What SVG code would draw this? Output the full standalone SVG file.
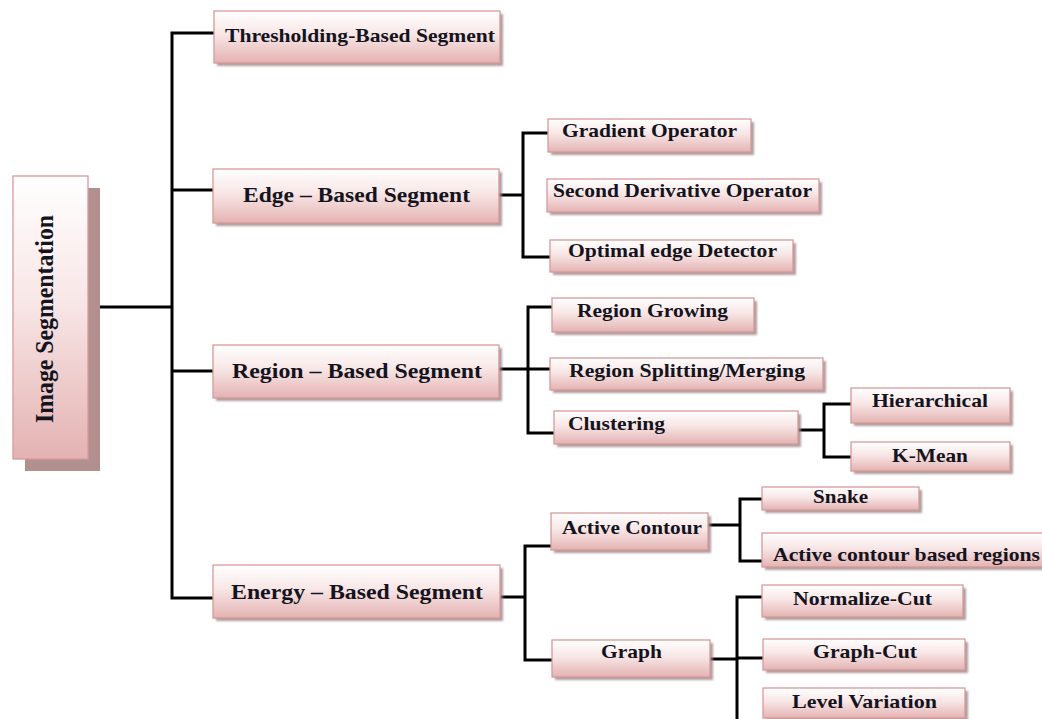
<svg xmlns="http://www.w3.org/2000/svg" width="1042" height="719" viewBox="0 0 1042 719">
<defs>
<linearGradient id="g" x1="0" y1="0" x2="0" y2="1">
<stop offset="0" stop-color="#ffffff"/>
<stop offset="0.45" stop-color="#f8e6e6"/>
<stop offset="1" stop-color="#e4b2b2"/>
</linearGradient>
<filter id="blur" x="-10%" y="-30%" width="120%" height="160%"><feGaussianBlur stdDeviation="1"/></filter>
</defs>
<style>
.box{fill:url(#g);stroke:#d79a9a;stroke-width:1.3}
.sh{fill:#9c8484;opacity:0.8;filter:url(#blur)}
.bigsh{fill:#b39090}
text{font-family:"Liberation Serif","Times New Roman",serif;font-weight:bold;fill:#141420;text-anchor:middle}
.m{font-size:21px}
.s{font-size:19px}
.r{font-size:25px}
.c path{fill:none;stroke:#000;stroke-width:3}
</style>
<g class="c" id="connectors">
<path d="M88 307H172"/>
<path d="M215 33H172V598H213"/>
<path d="M172 190H213"/>
<path d="M172 371H213"/>
<path d="M499 195H523"/>
<path d="M549 133H523V257H550"/>
<path d="M499 369H528"/>
<path d="M553 307H528V433H554"/>
<path d="M528 369H553"/>
<path d="M798 430H824"/>
<path d="M851 404H824V457H851"/>
<path d="M500 597H525"/>
<path d="M551 546H525V660H552"/>
<path d="M708 525H740"/>
<path d="M762 499H740V561H762"/>
<path d="M710 659H737"/>
<path d="M762 597H737V719"/>
<path d="M737 658H767"/>
</g>
<g id="root">
<rect class="bigsh" x="25" y="188" width="75" height="283"/>
<rect class="box" x="13" y="176" width="75" height="283"/>
<text class="r" transform="translate(53,319) rotate(-90)" textLength="208" lengthAdjust="spacingAndGlyphs">Image Segmentation</text>
</g>
<g id="thresholding">
<rect class="sh" x="217" y="14" width="286" height="52"/>
<rect class="box" x="214" y="11" width="286" height="52"/>
<text class="s" x="360" y="42" textLength="270" lengthAdjust="spacingAndGlyphs">Thresholding-Based Segment</text>
</g>
<g id="edge">
<rect class="sh" x="216" y="172" width="286" height="54"/>
<rect class="box" x="213" y="169" width="286" height="54"/>
<text class="m" x="356.5" y="202" textLength="227" lengthAdjust="spacingAndGlyphs">Edge – Based Segment</text>
</g>
<g id="region">
<rect class="sh" x="216" y="348" width="286" height="53"/>
<rect class="box" x="213" y="345" width="286" height="53"/>
<text class="m" x="357" y="378" textLength="250" lengthAdjust="spacingAndGlyphs">Region – Based Segment</text>
</g>
<g id="energy">
<rect class="sh" x="216" y="568" width="287" height="53"/>
<rect class="box" x="213" y="565" width="287" height="53"/>
<text class="m" x="357" y="599" textLength="252" lengthAdjust="spacingAndGlyphs">Energy – Based Segment</text>
</g>
<g id="gradient">
<rect class="sh" x="551" y="122" width="203" height="33"/>
<rect class="box" x="548" y="119" width="203" height="33"/>
<text class="s" x="649.5" y="137" textLength="175" lengthAdjust="spacingAndGlyphs">Gradient Operator</text>
</g>
<g id="second">
<rect class="sh" x="550" y="182" width="272" height="33"/>
<rect class="box" x="547" y="179" width="272" height="33"/>
<text class="s" x="682.5" y="197" textLength="259" lengthAdjust="spacingAndGlyphs">Second Derivative Operator</text>
</g>
<g id="optimal">
<rect class="sh" x="553" y="243" width="243" height="32"/>
<rect class="box" x="550" y="240" width="243" height="32"/>
<text class="s" x="672.5" y="257" textLength="209" lengthAdjust="spacingAndGlyphs">Optimal edge Detector</text>
</g>
<g id="rgrowing">
<rect class="sh" x="555" y="301" width="202" height="34"/>
<rect class="box" x="552" y="298" width="202" height="34"/>
<text class="s" x="652.5" y="317" textLength="151" lengthAdjust="spacingAndGlyphs">Region Growing</text>
</g>
<g id="rsplit">
<rect class="sh" x="553" y="361" width="273" height="32"/>
<rect class="box" x="550" y="358" width="273" height="32"/>
<text class="s" x="687" y="377" textLength="236" lengthAdjust="spacingAndGlyphs">Region Splitting/Merging</text>
</g>
<g id="clustering">
<rect class="sh" x="557" y="414" width="244" height="33"/>
<rect class="box" x="554" y="411" width="244" height="33"/>
<text class="s" x="616.5" y="430" textLength="97" lengthAdjust="spacingAndGlyphs">Clustering</text>
</g>
<g id="hierarchical">
<rect class="sh" x="854" y="391" width="159" height="35"/>
<rect class="box" x="851" y="388" width="159" height="35"/>
<text class="s" x="930" y="407" textLength="116" lengthAdjust="spacingAndGlyphs">Hierarchical</text>
</g>
<g id="kmean">
<rect class="sh" x="854" y="445" width="159" height="29"/>
<rect class="box" x="851" y="442" width="159" height="29"/>
<text class="s" x="930" y="462" textLength="76" lengthAdjust="spacingAndGlyphs">K-Mean</text>
</g>
<g id="active">
<rect class="sh" x="554" y="516" width="157" height="37"/>
<rect class="box" x="551" y="513" width="157" height="37"/>
<text class="s" x="632" y="534" textLength="140" lengthAdjust="spacingAndGlyphs">Active Contour</text>
</g>
<g id="snake">
<rect class="sh" x="765" y="490" width="157" height="23"/>
<rect class="box" x="762" y="487" width="157" height="23"/>
<text class="s" x="840.5" y="503" textLength="55" lengthAdjust="spacingAndGlyphs">Snake</text>
</g>
<g id="acbr">
<rect class="sh" x="765" y="536" width="290" height="34"/>
<rect class="box" x="762" y="533" width="290" height="34"/>
<text class="s" x="906.5" y="561" textLength="267" lengthAdjust="spacingAndGlyphs">Active contour based regions</text>
</g>
<g id="graph">
<rect class="sh" x="555" y="643" width="158" height="37"/>
<rect class="box" x="552" y="640" width="158" height="37"/>
<text class="s" x="631.5" y="658" textLength="61" lengthAdjust="spacingAndGlyphs">Graph</text>
</g>
<g id="ncut">
<rect class="sh" x="765" y="588" width="201" height="32"/>
<rect class="box" x="762" y="585" width="201" height="32"/>
<text class="s" x="862.5" y="605" textLength="139" lengthAdjust="spacingAndGlyphs">Normalize-Cut</text>
</g>
<g id="gcut">
<rect class="sh" x="766" y="642" width="202" height="31"/>
<rect class="box" x="763" y="639" width="202" height="31"/>
<text class="s" x="865" y="658" textLength="104" lengthAdjust="spacingAndGlyphs">Graph-Cut</text>
</g>
<g id="level">
<rect class="sh" x="766" y="691" width="202" height="30"/>
<rect class="box" x="763" y="688" width="202" height="30"/>
<text class="s" x="864.5" y="708" textLength="145" lengthAdjust="spacingAndGlyphs">Level Variation</text>
</g>
</svg>
